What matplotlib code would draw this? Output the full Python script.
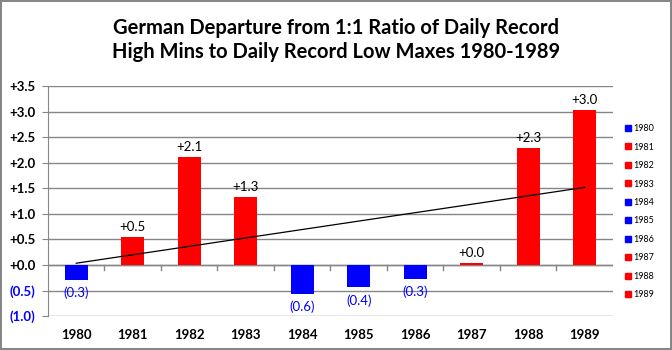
import numpy as np
import matplotlib

matplotlib.use("Agg")
import matplotlib.pyplot as plt
from matplotlib.lines import Line2D

# ----- Data -----
years = ["1980", "1981", "1982", "1983", "1984", "1985", "1986", "1987", "1988", "1989"]
departure = [-0.30, 0.54, 2.11, 1.33, -0.57, -0.44, -0.27, 0.04, 2.29, 3.03]
yticks = [-1.0, -0.5, 0.0, 0.5, 1.0, 1.5, 2.0, 2.5, 3.0, 3.5]

title = "German Departure from 1:1 Ratio of Daily Record\nHigh Mins to Daily Record Low Maxes 1980-1989"

plt.rcParams["font.family"] = ["Lato", "DejaVu Sans"]

RED = "#ff0000"
BLUE = "#0000ff"
GRID = "#868686"


def fmt(v):
    # Excel-style: +1.3 for positives, (0.3) for negatives
    return f"+{v:.1f}" if v >= 0 else f"({abs(v):.1f})"


# ----- Figure -----
fig = plt.figure(figsize=(6.72, 3.5), dpi=100)
fig.patch.set_edgecolor(GRID)
fig.patch.set_linewidth(1.5)
ax = fig.add_axes([0.0714, 0.097, 0.8408, 0.657])

x = np.arange(len(years))
colors = [RED if v >= 0 else BLUE for v in departure]
ax.bar(x, departure, width=0.4, color=colors, zorder=3)

# linear trend line
coef = np.polyfit(x, departure, 1)
ax.plot(x, np.polyval(coef, x), color="black", lw=0.9, zorder=4)

# data labels
for xi, v in zip(x, departure):
    if v >= 0:
        ax.text(xi, v + 0.08, fmt(v), ha="center", va="bottom", fontsize=9.5, color="black")
    else:
        ax.text(xi, v - 0.13, fmt(v), ha="center", va="top", fontsize=9.5, color=BLUE)

ax.set_xlim(-0.5, len(years) - 0.5)
ax.set_ylim(-1.0, 3.5)

# y axis
ax.set_yticks(yticks)
ax.set_yticklabels([fmt(v) for v in yticks], fontweight="bold", fontsize=9.5)
for lab, v in zip(ax.get_yticklabels(), yticks):
    if v < 0:
        lab.set_color(BLUE)
ax.yaxis.grid(True, color=GRID, lw=1)
ax.set_axisbelow(True)
ax.tick_params(axis="y", length=4, color=GRID, pad=5)

# x axis labels at bottom, no ticks there
ax.set_xticks(x)
ax.set_xticklabels(years, fontweight="bold", fontsize=9.5)
ax.tick_params(axis="x", length=0, pad=9)

# zero line with category-boundary ticks
ax.axhline(0, color=GRID, lw=1, zorder=2)
for b in np.arange(0.5, len(years) - 0.5, 1):
    ax.plot([b, b], [0, -0.1], color=GRID, lw=1, zorder=2)

for s in ["top", "right", "bottom"]:
    ax.spines[s].set_visible(False)
ax.spines["left"].set_color(GRID)

# legend on the right
handles = [Line2D([], [], marker="s", ls="", color=c, markersize=4.5) for c in colors]
fig.legend(handles, years, loc="center left", bbox_to_anchor=(0.925, 0.395),
           frameon=False, fontsize=6.5, handlelength=0.6, handletextpad=0.3,
           labelspacing=1.05, borderaxespad=0)

fig.text(0.5, 0.95, title, ha="center", va="top", fontsize=14.5, fontweight="bold",
         linespacing=1.3)

fig.savefig("out.png", dpi=100)
